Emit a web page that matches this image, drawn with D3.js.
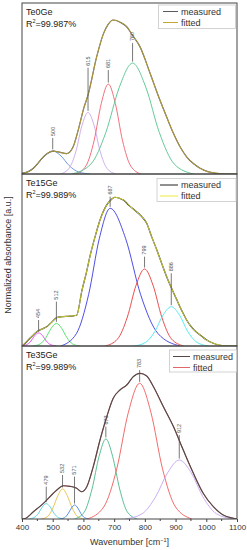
<!DOCTYPE html>
<html>
<head>
<meta charset="utf-8">
<script src="https://cdn.jsdelivr.net/npm/d3@7"></script>
<style>
  body { margin: 0; background: #fff; }
  svg text { font-family: "Liberation Sans", Arial, sans-serif; }
</style>
</head>
<body>
<div id="container"></div>
<script>
// values, [wavenumber, absorbance]
let xTicks = [400, 500, 600, 700, 800, 900, 1000, 1100];
let xMinor = [450, 550, 650, 750, 850, 950, 1050];

let te0Measured = [[400,0.004],[420,0.015],[437,0.037],[460,0.09],[480,0.13],[502,0.149],[525,0.14],[545,0.132],[565,0.17],[585,0.30],[600,0.42],[616,0.52],[643,0.76],[665,0.91],[680,0.97],[697,1.0],[720,0.985],[741,0.956],[760,0.90],[784,0.827],[817,0.654],[849,0.48],[871,0.37],[893,0.264],[915,0.175],[936,0.112],[958,0.068],[980,0.037],[1005,0.015],[1034,0.005],[1070,0],[1100,0]];
let te0Peak500 = [[378,0],[416,0.013],[447,0.056],[473,0.117],[500,0.15],[527,0.117],[553,0.056],[584,0.013],[622,0]];
let te0Peak615 = [[525,0],[553,0.036],[576,0.15],[595,0.313],[615,0.40],[635,0.313],[654,0.15],[677,0.036],[705,0]];
let te0Peak681 = [[575,0],[608,0.052],[635,0.219],[658,0.457],[681,0.584],[704,0.457],[727,0.219],[754,0.052],[787,0]];
let te0Peak760 = [[562,0],[624,0.064],[673,0.27],[717,0.564],[760,0.72],[803,0.564],[847,0.27],[896,0.064],[958,0]];
let te0Labels = [[500,0.15,0.234],[615,0.40,0.69],[681,0.584,0.675],[760,0.72,0.85]];

let te15Measured = [[400,0],[404,0.006],[426,0.05],[448,0.093],[465,0.11],[480,0.125],[497,0.155],[513,0.184],[530,0.19],[550,0.193],[567,0.196],[578,0.2],[595,0.36],[610,0.48],[621,0.58],[638,0.71],[654,0.818],[676,0.916],[690,0.95],[703,0.966],[716,0.96],[730,0.948],[750,0.91],[773,0.872],[790,0.84],[806,0.797],[822,0.71],[839,0.623],[855,0.535],[871,0.45],[888,0.37],[904,0.30],[920,0.23],[936,0.169],[947,0.135],[965,0.095],[980,0.072],[1000,0.04],[1023,0.018],[1045,0.005],[1070,0],[1100,0]];
let te15Peak454 = [[396,0],[414,0.0076],[429,0.032],[441,0.067],[454,0.085],[467,0.067],[479,0.032],[494,0.0076],[512,0]];
let te15Peak512 = [[435,0],[459,0.013],[478,0.055],[495,0.115],[512,0.147],[529,0.115],[546,0.055],[565,0.013],[589,0]];
let te15Peak687 = [[527,0],[577,0.08],[617,0.335],[652,0.70],[687,0.894],[737,0.70],[786,0.335],[843,0.08],[914,0]];
let te15Peak799 = [[671,0],[711,0.045],[743,0.188],[771,0.392],[799,0.50],[827,0.392],[855,0.188],[887,0.045],[927,0]];
let te15Peak886 = [[764,0],[802,0.023],[833,0.096],[859,0.2],[886,0.255],[913,0.2],[939,0.096],[970,0.023],[1008,0]];
let te15Labels = [[454,0.085,0.169],[512,0.147,0.288],[687,0.894,0.97],[799,0.50,0.58],[886,0.255,0.472]];

let te35Measured = [[400,0],[410,0.003],[437,0.047],[469,0.10],[502,0.167],[520,0.2],[534,0.216],[556,0.212],[578,0.20],[594,0.177],[611,0.21],[632,0.34],[654,0.513],[676,0.664],[697,0.784],[719,0.838],[741,0.87],[762,0.924],[784,0.946],[806,0.929],[828,0.859],[860,0.73],[893,0.60],[925,0.448],[958,0.297],[990,0.167],[1023,0.08],[1055,0.026],[1088,0.005],[1100,0]];
let te35Peak479 = [[421,0],[439,0.009],[454,0.038],[466,0.078],[479,0.10],[492,0.078],[504,0.038],[519,0.009],[537,0]];
let te35Peak532 = [[462,0],[484,0.017],[501,0.073],[517,0.153],[532,0.195],[547,0.153],[563,0.073],[580,0.017],[602,0]];
let te35Peak571 = [[523,0],[538,0.008],[550,0.034],[561,0.071],[571,0.091],[582,0.071],[592,0.034],[604,0.008],[619,0]];
let te35Peak673 = [[571,0],[603,0.046],[628,0.195],[651,0.407],[673,0.52],[695,0.407],[718,0.195],[743,0.046],[775,0]];
let te35Peak783 = [[613,0],[666,0.078],[709,0.33],[746,0.69],[783,0.881],[820,0.69],[857,0.33],[900,0.078],[953,0]];
let te35Peak912 = [[736,0],[791,0.034],[835,0.144],[874,0.30],[912,0.383],[951,0.30],[989,0.144],[1033,0.034],[1088,0]];
let te35Labels = [[479,0.10,0.21],[532,0.195,0.286],[571,0.091,0.275],[673,0.52,0.60],[783,0.881,0.967],[912,0.383,0.545]];

let width = 247;
let height = 550;
let left = 22, right = 237;

let panels = [
    { name: 'Te0Ge', r2: '=99.987%', top: 3, bottom: 174, measured: te0Measured,
      comps: [te0Peak500, te0Peak615, te0Peak681, te0Peak760],
      compColors: ['#5b8fe0', '#c9a6ec', '#f0606e', '#52c48c'],
      labels: te0Labels, measuredColor: '#5a5a5a', fittedColor: '#c4a830', fittedOnTop: true,
      legend: { x: 158.5, y: 5, w: 77, h: 23.5, lx: 163, tx: 181 } },
    { name: 'Te15Ge', r2: '=99.989%', top: 174, bottom: 346, measured: te15Measured,
      comps: [te15Peak454, te15Peak512, te15Peak687, te15Peak799, te15Peak886],
      compColors: ['#e040e8', '#48e060', '#3a3ae0', '#e83a3a', '#48e8f0'],
      labels: te15Labels, measuredColor: '#222', fittedColor: '#eaea3a', fittedOnTop: true,
      legend: { x: 157, y: 178.5, w: 79, h: 23, lx: 160, tx: 181 } },
    { name: 'Te35Ge', r2: '=99.989%', top: 346, bottom: 519, measured: te35Measured,
      comps: [te35Peak479, te35Peak532, te35Peak571, te35Peak673, te35Peak783, te35Peak912],
      compColors: ['#55d0e0', '#e4c040', '#4a86e0', '#48b888', '#f05a5a', '#c4a6f0'],
      labels: te35Labels, measuredColor: '#574848', fittedColor: '#e06868', fittedOnTop: false,
      legend: { x: 169.5, y: 350, w: 67, h: 22, lx: 173, tx: 193 } }
];

let svg = d3.select('#container').append('svg')
    .attr('width', width).attr('height', height);

let x = d3.scaleLinear().domain([400, 1100]).range([left, right]);

panels.forEach((p, i) => {
    let y = d3.scaleLinear().domain([0, (p.bottom - p.top) / 154]).range([p.bottom, p.top]);
    let g = svg.append('g').attr('class', 'panel');

    g.append('clipPath').attr('id', 'clip' + i)
        .append('rect').attr('x', left).attr('y', p.top)
        .attr('width', right - left).attr('height', p.bottom - p.top);

    let line = d3.line()
        .x(d => x(d[0]))
        .y(d => y(d[1]))
        .curve(d3.curveMonotoneX);

    let plot = g.append('g').attr('clip-path', 'url(#clip' + i + ')');

    p.comps.forEach((c, j) => {
        plot.append('path').datum(c)
            .attr('fill', 'none')
            .attr('stroke', p.compColors[j])
            .attr('stroke-width', 0.9)
            .attr('d', line);
    });

    let drawMeasured = () => plot.append('path').datum(p.measured)
        .attr('fill', 'none').attr('stroke', p.measuredColor)
        .attr('stroke-width', 1.2).attr('d', line);
    let drawFitted = () => plot.append('path').datum(p.measured)
        .attr('fill', 'none').attr('stroke', p.fittedColor)
        .attr('stroke-width', 1).attr('opacity', p.fittedOnTop ? 0.85 : 1).attr('d', line);
    if (p.fittedOnTop) { drawMeasured(); drawFitted(); }
    else { drawFitted(); drawMeasured(); }

    // peak labels
    p.labels.forEach(l => {
        let lx = x(l[0]);
        g.append('line')
            .attr('x1', lx).attr('x2', lx)
            .attr('y1', y(l[1]) - 1.5).attr('y2', y(l[2]))
            .attr('stroke', '#555').attr('stroke-width', 0.8);
        g.append('text')
            .attr('transform', 'translate(' + (lx + 1.8) + ',' + (y(l[2]) - 2) + ') rotate(-90)')
            .attr('font-size', 5.5).attr('fill', '#555')
            .text(l[0]);
    });

    // frame
    g.append('rect').attr('x', left).attr('y', p.top)
        .attr('width', right - left).attr('height', p.bottom - p.top)
        .attr('fill', 'none').attr('stroke', '#444').attr('stroke-width', 1);

    // title
    g.append('text').attr('x', 26).attr('y', p.top + 12)
        .attr('font-size', 9).attr('fill', '#222').text(p.name);
    let r = g.append('text').attr('x', 26).attr('y', p.top + 23.5)
        .attr('font-size', 9).attr('fill', '#222');
    r.append('tspan').text('R');
    r.append('tspan').attr('dy', -3.5).attr('font-size', 5.5).text('2');
    r.append('tspan').attr('dy', 3.5).text(p.r2);

    // legend
    let lg = p.legend;
    g.append('rect').attr('x', lg.x).attr('y', lg.y).attr('width', lg.w).attr('height', lg.h)
        .attr('fill', '#fff').attr('stroke', '#c8c8c8').attr('stroke-width', 0.8);
    [['measured', p.measuredColor], ['fitted', p.fittedColor]].forEach((e, k) => {
        let ly = lg.y + 6.5 + k * 11;
        g.append('line').attr('x1', lg.lx).attr('x2', lg.tx - 3)
            .attr('y1', ly).attr('y2', ly)
            .attr('stroke', e[1]).attr('stroke-width', 1);
        g.append('text').attr('x', lg.tx).attr('y', ly + 3)
            .attr('font-size', 9).attr('fill', '#333').text(e[0]);
    });
});

// x axis
let axisY = panels[2].bottom;
let xAxis = svg.append('g').attr('transform', 'translate(0,' + axisY + ')')
    .call(d3.axisBottom(x).tickValues(xTicks).tickSize(3).tickPadding(2).tickFormat(d3.format('d')));
xAxis.select('.domain').remove();
xAxis.selectAll('.tick line').attr('stroke', '#444');
xAxis.selectAll('.tick text').attr('font-size', 8).attr('fill', '#333')
    .attr('font-family', '"Liberation Sans", Arial, sans-serif');
svg.append('g').attr('transform', 'translate(0,' + axisY + ')')
    .selectAll('line').data(xMinor).enter().append('line')
    .attr('x1', d => x(d)).attr('x2', d => x(d))
    .attr('y1', 0).attr('y2', 2).attr('stroke', '#444');

let xt = svg.append('text').attr('x', (left + right) / 2).attr('y', 545)
    .attr('text-anchor', 'middle').attr('font-size', 9).attr('fill', '#333');
xt.append('tspan').text('Wavenumber [cm');
xt.append('tspan').attr('dy', -3.5).attr('font-size', 5.5).text('−1');
xt.append('tspan').attr('dy', 3.5).text(']');

svg.append('text')
    .attr('transform', 'translate(11,255) rotate(-90)')
    .attr('text-anchor', 'middle').attr('font-size', 9).attr('fill', '#333')
    .text('Normalized absorbance [a.u.]');
</script>
</body>
</html>
